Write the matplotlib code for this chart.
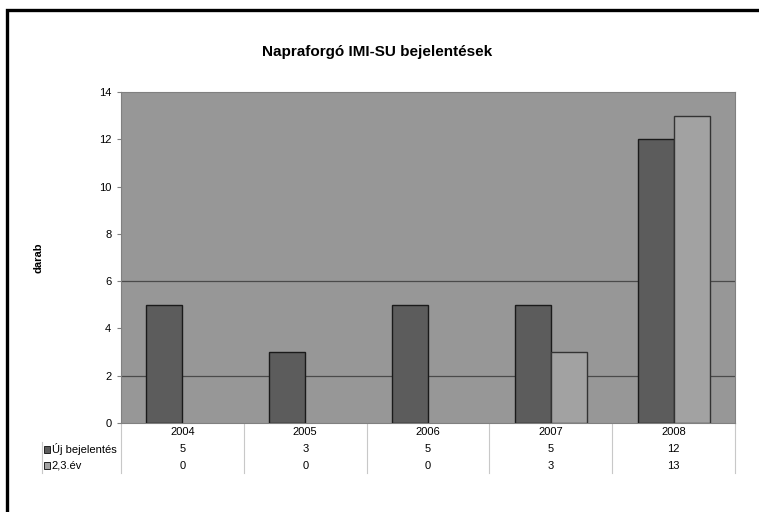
import matplotlib
matplotlib.use("Agg")
import matplotlib.pyplot as plt
import matplotlib.patches as patches
import numpy as np

plt.rcParams['font.family'] = ['Liberation Sans', 'DejaVu Sans']

years = ['2004', '2005', '2006', '2007', '2008']
series_names = ['Új bejelentés', '2,3.év']
uj = [5, 3, 5, 5, 12]
ev23 = [0, 0, 0, 3, 13]
colors = ['#5c5c5c', '#a2a2a2']

fig = plt.figure(figsize=(7.59, 5.12), dpi=100)
ax = fig.add_axes([121 / 759, 89 / 512, 614 / 759, 331 / 512])

# outer chart frame (runs off the right/bottom edge like the reference)
fig.patches.append(patches.Rectangle((7 / 759, -0.2), 1.2, 1 - 10 / 512 + 0.2,
                                     transform=fig.transFigure, fill=False,
                                     edgecolor='black', linewidth=2.4))

x = np.arange(len(years))
w = 0.293
ax.set_facecolor('#979797')
for yv in [2, 6]:
    ax.axhline(yv, color='#4a4a4a', linewidth=0.9, zorder=1)
ax.bar(x - w / 2, uj, w, color=colors[0], edgecolor='#1a1a1a',
       linewidth=[1.0 if v else 0 for v in uj], zorder=3)
ax.bar(x + w / 2, ev23, w, color=colors[1], edgecolor='#333333',
       linewidth=[1.0 if v else 0 for v in ev23], zorder=3)

ax.set_xlim(-0.5, len(years) - 0.5)
ax.set_ylim(0, 14)
ax.set_yticks(range(0, 15, 2))
ax.set_xticks([])
ax.tick_params(axis='y', labelsize=8, length=3, color='#808080', pad=4)
for s in ['top', 'right', 'left', 'bottom']:
    ax.spines[s].set_color('#808080')
    ax.spines[s].set_linewidth(0.8)

ax.set_ylabel('darab', fontsize=8, fontweight='bold', labelpad=40)
fig.text(377 / 759, 1 - 52 / 512, 'Napraforgó IMI-SU bejelentések',
         ha='center', va='center', fontsize=11, fontweight='bold')

# data table below the plot
tr = ax.get_xaxis_transform()
y_year, y_r1, y_r2, y_end = -0.027, -0.079, -0.129, -0.151
for b in np.arange(-0.5, len(years), 1.0):
    ax.plot([b, b], [0, y_end], transform=tr, color='#c8c8c8', lw=0.8, clip_on=False)
for i, yr in enumerate(years):
    ax.text(i, y_year, yr, transform=tr, ha='center', va='center', fontsize=8)
    ax.text(i, y_r1, str(uj[i]), transform=tr, ha='center', va='center', fontsize=8)
    ax.text(i, y_r2, str(ev23[i]), transform=tr, ha='center', va='center', fontsize=8)

lx = -0.1287
ax.plot([lx, lx], [-0.058, y_end], transform=ax.transAxes, color='#c8c8c8', lw=0.8, clip_on=False)
for name, c, yy in [(series_names[0], colors[0], y_r1), (series_names[1], colors[1], y_r2)]:
    ax.add_patch(patches.Rectangle((lx + 0.003, yy - 0.011), 0.0095, 0.021, transform=ax.transAxes,
                                   facecolor=c, edgecolor='#222222', lw=0.7, clip_on=False))
    ax.text(lx + 0.016, yy, name, transform=ax.transAxes, ha='left', va='center', fontsize=8)

fig.savefig('out.png', dpi=100)
